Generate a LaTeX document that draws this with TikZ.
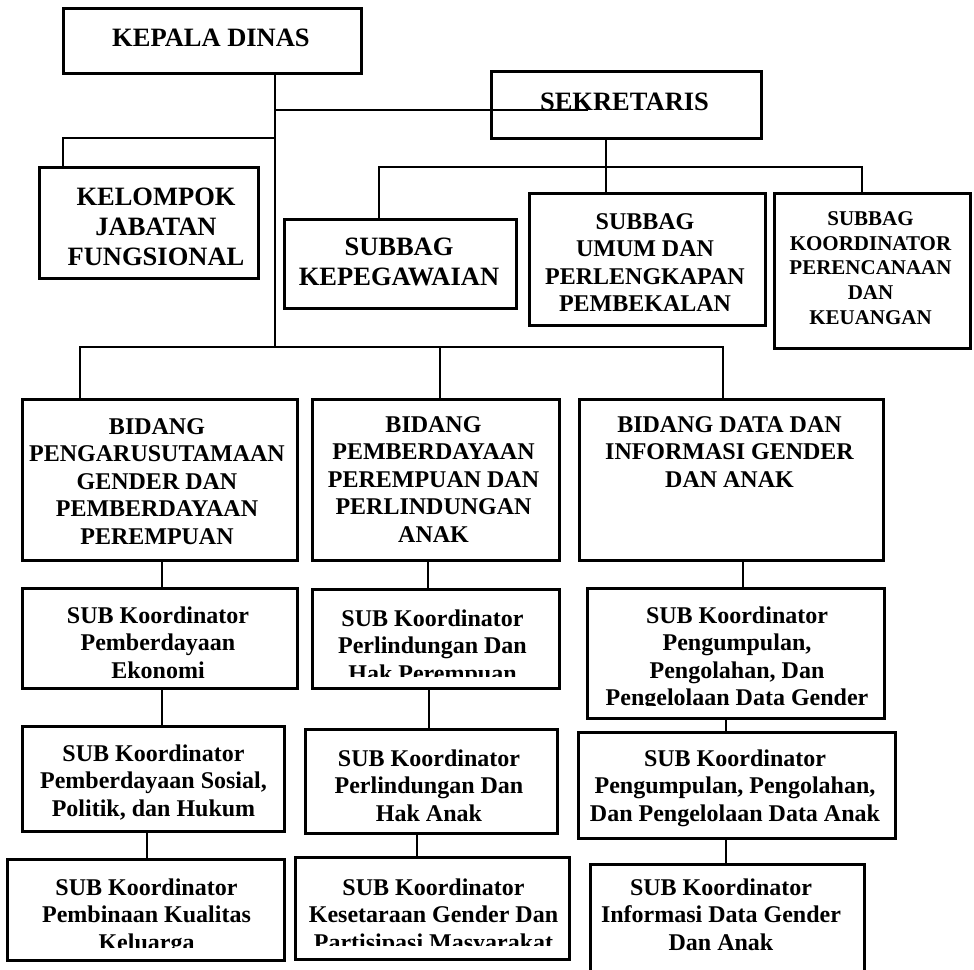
\documentclass[tikz,border=0pt]{standalone}
\usepackage{fontspec}
\setmainfont{Liberation Serif}
\tikzset{>=stealth}

\begin{document}
\begin{tikzpicture}[x=1pt, y=-1pt, line width=2.8pt,
    box/.style={draw, line width=2.8pt, inner sep=0pt, anchor=north west},
    big/.style={font=\bfseries\fontsize{26.5}{30}\selectfont, align=center, inner sep=0pt, anchor=north},
    mid/.style={font=\bfseries\fontsize{24}{27.5}\selectfont, align=center, inner sep=0pt, anchor=north},
    small/.style={font=\bfseries\fontsize{21}{24.7}\selectfont, align=center, inner sep=0pt, anchor=north}]
    \useasboundingbox (0,0) rectangle (974,969);

    % boxes
    \node[box, minimum width=298, minimum height=65] (kd) at (62,7) {};
    \node[box, minimum width=270, minimum height=67] (sek) at (490,70) {};
    \node[box, minimum width=219, minimum height=111] (kjf) at (38,166) {};
    \node[box, minimum width=232, minimum height=89] (kep) at (283,218) {};
    \node[box, minimum width=236, minimum height=132] (umum) at (528,192) {};
    \node[box, minimum width=196, minimum height=155] (ren) at (773,192) {};
    \node[box, minimum width=275, minimum height=161] (bid1) at (21,398) {};
    \node[box, minimum width=247, minimum height=161] (bid2) at (311,398) {};
    \node[box, minimum width=304, minimum height=161] (bid3) at (578,398) {};
    \node[box, minimum width=275, minimum height=100] (sub1a) at (21,587) {};
    \node[box, minimum width=247, minimum height=99] (sub2a) at (311,588) {};
    \node[box, minimum width=297, minimum height=130] (sub3a) at (586,587) {};
    \node[box, minimum width=262, minimum height=105] (sub1b) at (21,725) {};
    \node[box, minimum width=252, minimum height=104] (sub2b) at (304,728) {};
    \node[box, minimum width=317, minimum height=106] (sub3b) at (577,731) {};
    \node[box, minimum width=277, minimum height=101] (sub1c) at (6,858) {};
    \node[box, minimum width=274, minimum height=102] (sub2c) at (294,856) {};
    \node[box, minimum width=274, minimum height=115] (sub3c) at (589,863) {};

    % texts
    \node[big] (kd-t) at (211,28) {KEPALA DINAS};
    \node[big] (sek-t) at (624.5,92) {SEKRETARIS};
    \node[big] (kjf-t) at (156,187) {KELOMPOK\\JABATAN\\FUNGSIONAL};
    \node[big] (kep-t) at (399,237) {SUBBAG\\KEPEGAWAIAN};
    \node[mid] (umum-t) at (645,212) {SUBBAG\\UMUM DAN\\PERLENGKAPAN\\PEMBEKALAN};
    \node[small] (ren-t) at (870.5,210) {SUBBAG\\KOORDINATOR\\PERENCANAAN\\DAN\\KEUANGAN};
    \node[mid] (bid1-t) at (157,417) {BIDANG\\PENGARUSUTAMAAN\\GENDER DAN\\PEMBERDAYAAN\\PEREMPUAN};
    \node[mid] (bid2-t) at (433.5,415) {BIDANG\\PEMBERDAYAAN\\PEREMPUAN DAN\\PERLINDUNGAN\\ANAK};
    \node[mid] (bid3-t) at (729.5,415) {BIDANG DATA DAN\\INFORMASI GENDER\\DAN ANAK};
    \node[mid] (sub1a-t) at (158,605) {SUB Koordinator\\Pemberdayaan\\Ekonomi};
    \begin{scope}
        \clip (311,588) rectangle (558,676);
        \node[mid] (sub2a-t) at (432.5,608) {SUB Koordinator\\Perlindungan Dan\\Hak Perempuan};
    \end{scope}
    \begin{scope}
        \clip (586,587) rectangle (883,705);
        \node[mid] (sub3a-t) at (737,605) {SUB Koordinator\\Pengumpulan,\\Pengolahan, Dan\\Pengelolaan Data Gender};
    \end{scope}
    \node[mid] (sub1b-t) at (153.5,743) {SUB Koordinator\\Pemberdayaan Sosial,\\Politik, dan Hukum};
    \node[mid] (sub2b-t) at (429,748) {SUB Koordinator\\Perlindungan Dan\\Hak Anak};
    \node[mid] (sub3b-t) at (735,748) {SUB Koordinator\\Pengumpulan, Pengolahan,\\Dan Pengelolaan Data Anak};
    \begin{scope}
        \clip (6,858) rectangle (283,947);
        \node[mid] (sub1c-t) at (146.5,877) {SUB Koordinator\\Pembinaan Kualitas\\Keluarga};
    \end{scope}
    \begin{scope}
        \clip (294,856) rectangle (568,945);
        \node[mid] (sub2c-t) at (433.5,877) {SUB Koordinator\\Kesetaraan Gender Dan\\Partisipasi Masyarakat};
    \end{scope}
    \node[mid] (sub3c-t) at (721,877) {SUB Koordinator\\Informasi Data Gender\\Dan Anak};

    % lines
    \coordinate (t1) at (275,347);
    \coordinate (s0) at (588,110);
    \coordinate (k0) at (63,138);
    \draw (kd.south -| t1) -- (t1);
    \draw (t1 |- s0) -- (s0);
    \draw (t1 |- k0) -- (k0) -- (k0 |- kjf.north);

    \coordinate (b1) at (379,167);
    \coordinate (s1) at (606,167);
    \coordinate (b2) at (862,167);
    \draw (sek.south -| s1) -- (s1 |- umum.north);
    \draw (b1 |- kep.north) -- (b1) -- (b2) -- (b2 |- ren.north);

    \coordinate (c1) at (80,347);
    \coordinate (c2) at (440,347);
    \coordinate (c3) at (723,347);
    \draw (c1 |- bid1.north) -- (c1) -- (c3) -- (c3 |- bid3.north);
    \draw (c2) -- (c2 |- bid2.north);

    \draw (bid1.south -| 162,0) -- (sub1a.north -| 162,0);
    \draw (sub1a.south -| 162,0) -- (sub1b.north -| 162,0);
    \draw (sub1b.south -| 147,0) -- (sub1c.north -| 147,0);
    \draw (bid2.south -| 428,0) -- (sub2a.north -| 428,0);
    \draw (sub2a.south -| 429,0) -- (sub2b.north -| 429,0);
    \draw (sub2b.south -| 417,0) -- (sub2c.north -| 417,0);
    \draw (bid3.south -| 743,0) -- (sub3a.north -| 743,0);
    \draw (sub3a.south -| 726,0) -- (sub3b.north -| 726,0);
    \draw (sub3b.south -| 726,0) -- (sub3c.north -| 726,0);
\end{tikzpicture}
\end{document}
